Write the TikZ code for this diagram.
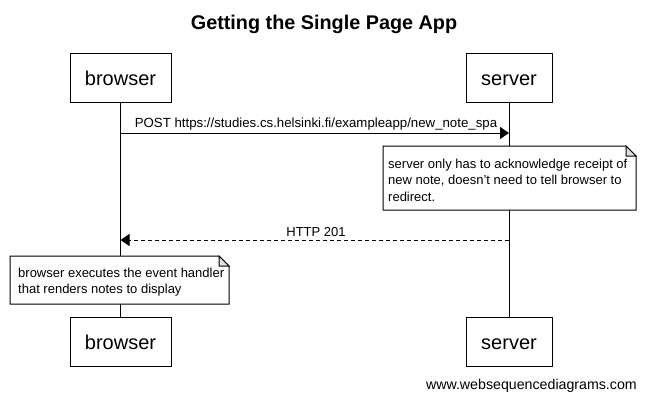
\documentclass[tikz,border=0pt]{standalone}
\usepackage{fontspec}
\setmainfont{Liberation Sans}
\usetikzlibrary{arrows.meta}
\begin{document}
\begin{tikzpicture}[x=1pt,y=-1pt,
  part/.style={draw,line width=1pt,fill=white,minimum height=49pt,inner sep=0pt,
    text height=16pt,text depth=0pt,font=\fontsize{20}{24}\selectfont},
  life/.style={line width=1pt},
  msg/.style={line width=1pt,-{Triangle[length=9pt,width=12pt]}},
  reply/.style={msg,dash pattern=on 4pt off 3pt},
  lbl/.style={font=\fontsize{13}{16}\selectfont,inner sep=0pt},
  notebox/.style={draw,line width=1pt,fill=white},
  fold/.style={draw,line width=1pt,fill=gray!25},
  notetext/.style={font=\fontsize{13}{16.5}\selectfont,align=left,inner sep=0pt}]
\useasboundingbox (0,0) rectangle (646,400);
\fill[white] (0,0) rectangle (646,400);

\node[font=\bfseries\fontsize{19.8}{23}\selectfont,anchor=base] (title) at (324,29) {Getting the Single Page App};

\node[part,minimum width=101pt] (bt) at (120.5,77.5) {browser};
\node[part,minimum width=86pt] (st) at (509,77.5) {server};
\node[part,minimum width=101pt] (bb) at (120.5,341.5) {browser};
\node[part,minimum width=86pt] (sb) at (509,341.5) {server};

\draw[life] (bt.south) -- (bb.north);
\draw[life] (st.south) -- (sb.north);

\coordinate (m1a) at (120.5,133);
\coordinate (m1b) at (509,133);
\draw[msg] (m1a) -- (m1b);
\node[lbl,anchor=base,font=\fontsize{13.25}{16}\selectfont] (l1) at (316,127) {POST https://studies.cs.helsinki.fi/exampleapp/new\_note\_spa};

% note 1
\draw[notebox] (383,146) -- (626,146) -- (636,156) -- (636,210) -- (383,210) -- cycle;
\draw[fold] (626,146) -- (626,156) -- (636,156) -- cycle;
\node[notetext,anchor=base west] (n1) at (388,201) {server only has to acknowledge receipt of\\new note, doesn't need to tell browser to\\redirect.};

\coordinate (m2a) at (509,240);
\coordinate (m2b) at (120.5,240);
\draw[reply] (m2a) -- (m2b);
\node[lbl,anchor=base] (l2) at (316,236) {HTTP 201};

% note 2
\draw[notebox] (10,256) -- (219,256) -- (229,266) -- (229,304) -- (10,304) -- cycle;
\draw[fold] (219,256) -- (219,266) -- (229,266) -- cycle;
\node[notetext,anchor=base west] (n2) at (18,293.5) {browser executes the event handler\\that renders notes to display};

\node[lbl,anchor=base east,font=\fontsize{14.2}{17}\selectfont] (foot) at (637,389) {www.websequencediagrams.com};
\end{tikzpicture}
\end{document}
